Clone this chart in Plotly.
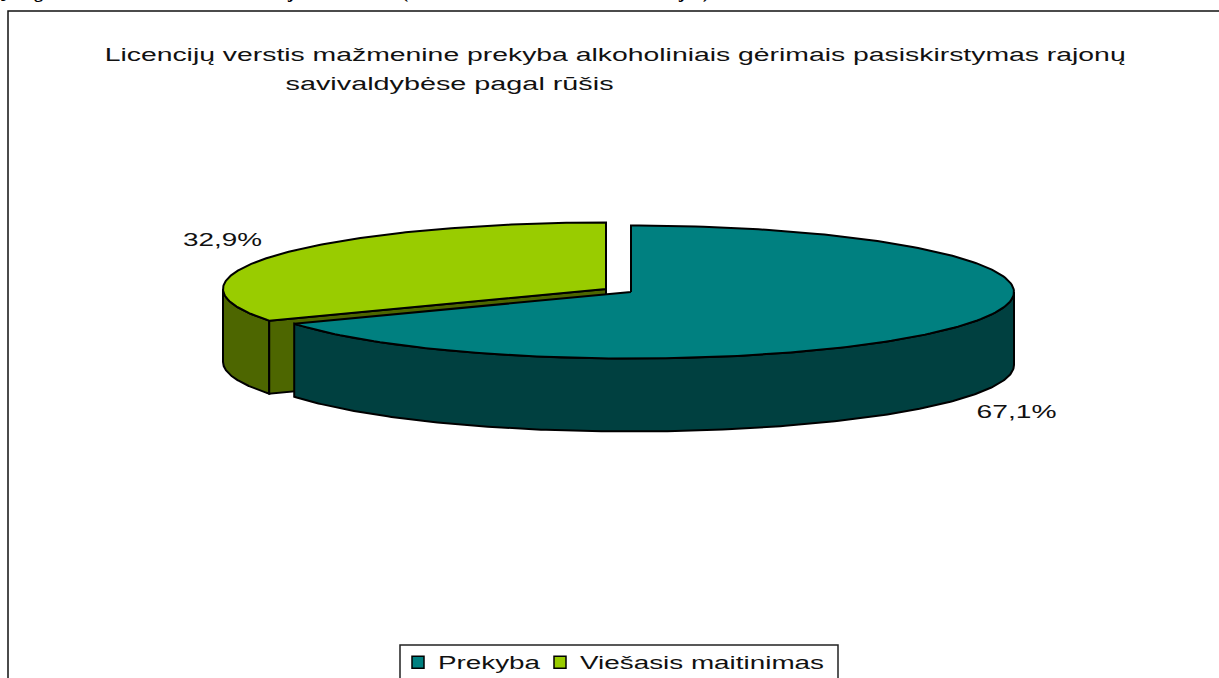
import json
import numpy as np
import plotly.graph_objects as go

categories = ["Prekyba", "Viešasis maitinimas"]
shares = [67.1, 32.9]
value_labels = ["67,1%", "32,9%"]
top_colors = ["#008080", "#99CC00"]
side_colors = ["#004040", "#4D6600"]
title_lines = [
    "Licencijų verstis mažmenine prekyba alkoholiniais gėrimais pasiskirstymas rajonų",
    "savivaldybėse pagal rūšis",
]
# bottoms of a heading line cut off by the top edge of the reference picture
clipped_glyphs = [("[", 3), ("g", 38), ("j", 290), ("(", 405), ("j", 681), (")", 706)]

# text widths as seen in the reference (it is stretched horizontally)
text_widths = {
    title_lines[0]: 1021, title_lines[1]: 328,
    value_labels[0]: 80, value_labels[1]: 79,
}
legend_widths = [102, 244]

# projected pie geometry (pixel-like axes)
W, H = 1219, 678
RX, RY, DEPTH = 383, 66.5, 73
CENTERS = [(631, 292), (606, 289)]
LINE = dict(color="black", width=2)

split = shares[0] / sum(shares) * 2 * np.pi


def rim(c, a, b, n=200):
    t = np.linspace(a, b, n)
    return c[0] + RX * np.sin(t), c[1] - RY * np.cos(t)


fig = go.Figure()


def poly(x, y, color):
    x, y = list(x), list(y)
    fig.add_trace(go.Scatter(
        x=x + x[:1], y=y + y[:1], mode="lines", fill="toself", fillcolor=color,
        line=LINE, showlegend=False, hoverinfo="skip"))


# green slice: outer wall, inner wall, top
c = CENTERS[1]
rx_, ry_ = rim(c, split, 1.5 * np.pi)
poly(np.r_[rx_, rx_[::-1]], np.r_[ry_, ry_[::-1] + DEPTH], side_colors[1])
ex, ey = rim(c, split, split, 1)
poly([c[0], ex[0], ex[0], c[0]], [c[1], ey[0], ey[0] + DEPTH, c[1] + DEPTH], side_colors[1])
rx_, ry_ = rim(c, split, 2 * np.pi)
poly(np.r_[c[0], rx_], np.r_[c[1], ry_], top_colors[1])

# teal slice: outer wall, top
c = CENTERS[0]
rx_, ry_ = rim(c, np.pi / 2, split)
poly(np.r_[rx_, rx_[::-1]], np.r_[ry_, ry_[::-1] + DEPTH], side_colors[0])
rx_, ry_ = rim(c, 0, split)
poly(np.r_[c[0], rx_], np.r_[c[1], ry_], top_colors[0])

# legend entries, one legend each so each label can have its own width
for name, color, lg in zip(categories, top_colors, ["legend", "legend2"]):
    fig.add_trace(go.Scatter(
        x=[None], y=[None], mode="markers", name=name, legend=lg,
        marker=dict(symbol="square", size=12, color=color, line=dict(color="black", width=1.5))))

FONT = dict(family="Liberation Sans, Arial, sans-serif", size=18, color="#111")
ann = [
    dict(x=614.5, y=55, text=title_lines[0]),
    dict(x=449, y=84, text=title_lines[1]),
    dict(x=222.5, y=240, text=value_labels[1]),
    dict(x=1016, y=412, text=value_labels[0]),
]
for a in ann:
    fig.add_annotation(xanchor="center", yanchor="middle", showarrow=False, font=FONT, **a)
for g, gx in clipped_glyphs:
    fig.add_annotation(x=gx, yref="paper", y=1 + 8 / H, text=g, xanchor="center", yanchor="middle",
                       showarrow=False,
                       font=dict(family="Liberation Serif, serif", size=18, color="black", weight="bold"))

LEG = dict(orientation="h", y=1 - 644 / H, xanchor="left", yanchor="top",
           bgcolor="rgba(0,0,0,0)", borderwidth=0,
           font=dict(family="Liberation Sans, Arial, sans-serif", size=18, color="#111"))

fig.update_layout(
    width=W, height=H, autosize=False,
    margin=dict(l=0, r=0, t=0, b=0, autoexpand=False),
    paper_bgcolor="white", plot_bgcolor="white",
    xaxis=dict(range=[0, W], visible=False, fixedrange=True),
    yaxis=dict(range=[H, 0], visible=False, fixedrange=True),
    legend=dict(x=398 / W, entrywidth=110, **LEG),
    legend2=dict(x=540 / W, entrywidth=255, **LEG),
    shapes=[
        dict(type="rect", xref="x", yref="y", x0=8, y0=11, x1=1230, y1=690,
             line=dict(color="#111", width=1.5), layer="below"),
        dict(type="rect", xref="x", yref="y", x0=400, y0=645, x1=838, y1=690,
             line=dict(color="#222", width=1.5), fillcolor="white", layer="below"),
    ],
)

post = """
document.documentElement.style.overflow = 'hidden';
document.body.style.margin = '0';
var widths = %s;
var legendWidths = %s;
function fit(el, w) {
  if (!el) { return; }
  el.setAttribute('textLength', w);
  el.setAttribute('lengthAdjust', 'spacingAndGlyphs');
}
function stretch() {
  document.querySelectorAll('.annotation-text').forEach(function (el) {
    var w = widths[el.textContent];
    if (w) { fit(el, w); }
  });
  fit(document.querySelector('.legendtext'), legendWidths[0]);
  fit(document.querySelector('.legend2text'), legendWidths[1]);
}
stretch();
var gd = document.getElementById('{plot_id}');
gd.on('plotly_afterplot', stretch);
setTimeout(stretch, 50);
setTimeout(stretch, 300);
""" % (json.dumps(text_widths, ensure_ascii=False), json.dumps(legend_widths))

fig.write_html("out.html", config=dict(displayModeBar=False), post_script=post)
